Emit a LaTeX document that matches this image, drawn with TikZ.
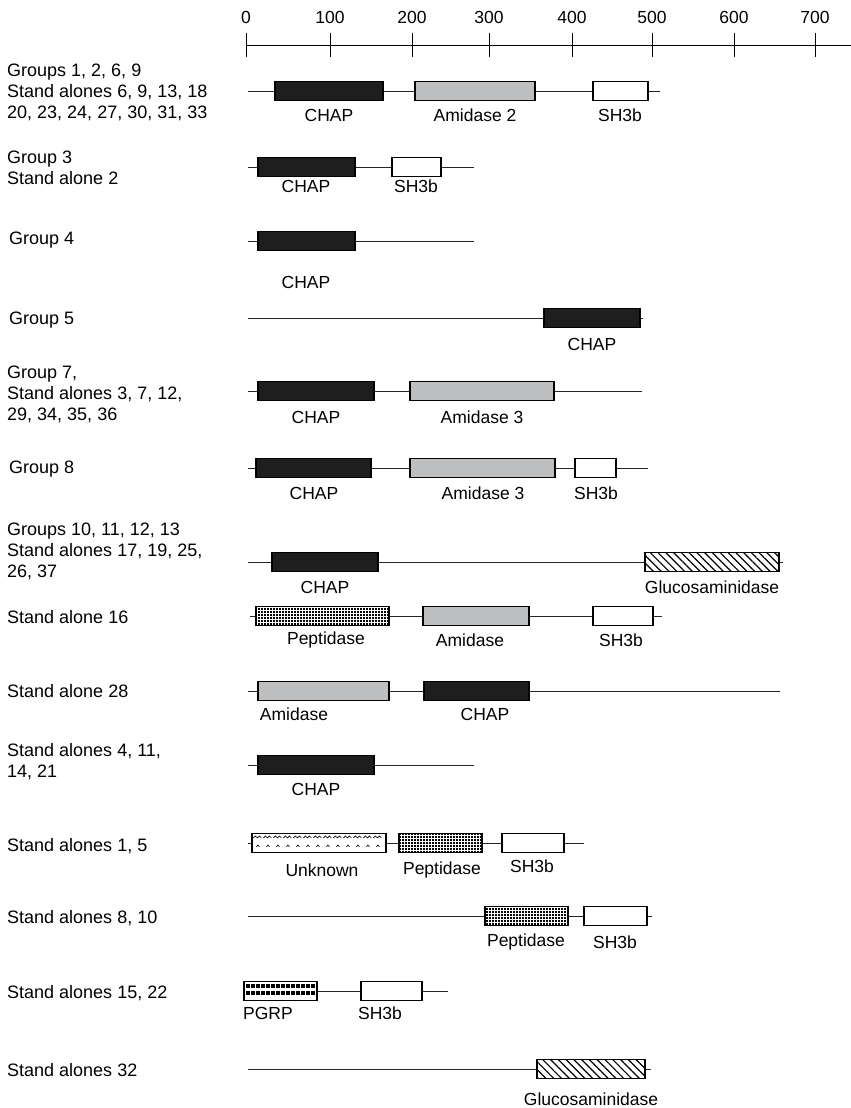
\documentclass[tikz,border=0pt]{standalone}
\usepackage{fontspec}
\setmainfont{Liberation Sans}
\usepackage{xcolor}
\usetikzlibrary{patterns,patterns.meta}

\definecolor{chapblack}{RGB}{30,30,30}
\definecolor{amidgray}{RGB}{188,190,192}

\pgfdeclarepattern{
  name=pepgrid,
  type=uncolored,
  bottom left={\pgfpointorigin},
  top right={\pgfpoint{3pt}{3pt}},
  tile size={\pgfpoint{3pt}{3pt}},
  code={\pgfpathrectangle{\pgfpointorigin}{\pgfpoint{2.5pt}{2.5pt}}\pgfusepath{fill}}
}

\tikzset{
  dom/.style={rectangle, draw=black, line width=1.1pt, minimum height=19pt, inner sep=0pt},
  chap/.style={dom, fill=chapblack},
  amid/.style={dom, fill=amidgray},
  sh/.style={dom, fill=white},
  pept/.style={dom, fill=white, postaction={pattern=pepgrid}, postaction={draw, line width=1.1pt}},
  glu/.style={dom, fill=white, postaction={pattern={Lines[angle=-45, distance=5.5pt, line width=1.2pt]}}, postaction={draw, line width=1.1pt}},
  pgrp/.style={dom, fill=white},
  unk/.style={dom, fill=white},
  bb/.style={line width=0.9pt, draw=black!85},
  lbl/.style={inner sep=0pt, font=\fontsize{17.5}{20}\selectfont},
  grp/.style={inner sep=0pt, anchor=west, align=left, font=\fontsize{18}{21}\selectfont}
}

\begin{document}
\begin{tikzpicture}[x=1pt, y=-1pt]
  \useasboundingbox (0,0) rectangle (851,1108);

  % scale
  \coordinate (AxisStart) at (246,45);
  \coordinate (AxisEnd) at (851,45);
  \draw[line width=0.9pt] (AxisStart) -- (AxisEnd);
  \foreach \v/\x in {0/246, 100/330, 200/412, 300/489, 400/572, 500/652, 600/734, 700/815} {
    \draw[line width=0.9pt] (\x,33) -- (\x,57);
    \node[lbl] (Tick\v) at (\x,17) {\v};
  }

  % groups 1, 2, 6, 9
  \node[grp] (Name1) at (7,92) {Groups 1, 2, 6, 9\\Stand alones 6, 9, 13, 18\\20, 23, 24, 27, 30, 31, 33};
  \coordinate (Start1) at (248,91);
  \coordinate (End1) at (660,91);
  \node[chap, minimum width=108pt] (Chap1) at (329,91) {};
  \node[amid, minimum width=120pt] (Amidase1) at (475,91) {};
  \node[sh, minimum width=55pt] (SHb1) at (620.5,91) {};
  \draw[bb] (Start1) -- (Chap1) -- (Amidase1) -- (SHb1) -- (End1);
  \node[lbl] (ChapLab1) at (329,115) {CHAP};
  \node[lbl] (AmidaseLab1) at (475,115) {Amidase 2};
  \node[lbl] (SHbLab1) at (620,115) {SH3b};

  % group 3
  \node[grp] (Name2) at (7,168) {Group 3\\Stand alone 2};
  \coordinate (Start2) at (248,167);
  \coordinate (End2) at (474,167);
  \node[chap, minimum width=97pt] (Chap2) at (306.5,167) {};
  \node[sh, minimum width=49pt] (SHb2) at (416.5,167) {};
  \draw[bb] (Start2) -- (Chap2) -- (SHb2) -- (End2);
  \node[lbl] (ChapLab2) at (306,186) {CHAP};
  \node[lbl] (SHbLab2) at (416,186) {SH3b};

  % group 4
  \node[grp] (Name3) at (9,240) {Group 4};
  \coordinate (Start3) at (248,241);
  \coordinate (End3) at (474,241);
  \node[chap, minimum width=97pt] (Chap3) at (306.5,241) {};
  \draw[bb] (Start3) -- (Chap3) -- (End3);
  \node[lbl] (ChapLab3) at (306,282) {CHAP};

  % group 5
  \node[grp] (Name4) at (9,320) {Group 5};
  \coordinate (Start4) at (248,318);
  \coordinate (End4) at (643,318);
  \node[chap, minimum width=96pt] (Chap4) at (592,318) {};
  \draw[bb] (Start4) -- (Chap4) -- (End4);
  \node[lbl] (ChapLab4) at (592,344) {CHAP};

  % group 7
  \node[grp] (Name5) at (7,394) {Group 7,\\Stand alones 3, 7, 12,\\29, 34, 35, 36};
  \coordinate (Start5) at (248,391);
  \coordinate (End5) at (642,391);
  \node[chap, minimum width=116pt] (Chap5) at (316,391) {};
  \node[amid, minimum width=144pt] (Amidase5) at (482,391) {};
  \draw[bb] (Start5) -- (Chap5) -- (Amidase5) -- (End5);
  \node[lbl] (ChapLab5) at (316,417) {CHAP};
  \node[lbl] (AmidaseLab5) at (482,417) {Amidase 3};

  % group 8
  \node[grp] (Name6) at (9,469) {Group 8};
  \coordinate (Start6) at (248,468);
  \coordinate (End6) at (648,468);
  \node[chap, minimum width=115pt] (Chap6) at (313.5,468) {};
  \node[amid, minimum width=145pt] (Amidase6) at (482.5,468) {};
  \node[sh, minimum width=41pt] (SHb6) at (595.5,468) {};
  \draw[bb] (Start6) -- (Chap6) -- (Amidase6) -- (SHb6) -- (End6);
  \node[lbl] (ChapLab6) at (314,493) {CHAP};
  \node[lbl] (AmidaseLab6) at (483,493) {Amidase 3};
  \node[lbl] (SHbLab6) at (596,493) {SH3b};

  % groups 10, 11, 12, 13
  \node[grp] (Name7) at (7,551) {Groups 10, 11, 12, 13\\Stand alones 17, 19, 25,\\26, 37};
  \coordinate (Start7) at (248,562);
  \coordinate (End7) at (783,562);
  \node[chap, minimum width=106pt] (Chap7) at (325,562) {};
  \node[glu, minimum width=134pt] (Gluc7) at (712,562) {};
  \draw[bb] (Start7) -- (Chap7) -- (Gluc7) -- (End7);
  \node[lbl] (ChapLab7) at (325,587) {CHAP};
  \node[lbl] (GlucLab7) at (712,587) {Glucosaminidase};

  % stand alone 16
  \node[grp] (Name8) at (7,617) {Stand alone 16};
  \coordinate (Start8) at (250,616);
  \coordinate (End8) at (662,616);
  \node[pept, minimum width=133pt] (Pept8) at (322.5,616) {};
  \node[amid, minimum width=106pt] (Amidase8) at (476,616) {};
  \node[sh, minimum width=60pt] (SHb8) at (623,616) {};
  \draw[bb] (Start8) -- (Pept8) -- (Amidase8) -- (SHb8) -- (End8);
  \node[lbl] (PeptLab8) at (326,640) {Peptidase};
  \node[lbl] (AmidaseLab8) at (470,640) {Amidase};
  \node[lbl] (SHbLab8) at (621,640) {SH3b};

  % stand alone 28
  \node[grp] (Name9) at (7,691) {Stand alone 28};
  \coordinate (Start9) at (248,691);
  \coordinate (End9) at (780,691);
  \node[amid, minimum width=131pt] (Amidase9) at (323.5,691) {};
  \node[chap, minimum width=105pt] (Chap9) at (476.5,691) {};
  \draw[bb] (Start9) -- (Amidase9) -- (Chap9) -- (End9);
  \node[lbl] (AmidaseLab9) at (294,714) {Amidase};
  \node[lbl] (ChapLab9) at (485,714) {CHAP};

  % stand alones 4, 11, 14, 21
  \node[grp] (Name10) at (7,762) {Stand alones 4, 11,\\14, 21};
  \coordinate (Start10) at (248,765);
  \coordinate (End10) at (474,765);
  \node[chap, minimum width=116pt] (Chap10) at (316,765) {};
  \draw[bb] (Start10) -- (Chap10) -- (End10);
  \node[lbl] (ChapLab10) at (316,789) {CHAP};

  % stand alones 1, 5
  \node[grp] (Name11) at (7,846) {Stand alones 1, 5};
  \coordinate (Start11) at (248,843);
  \coordinate (End11) at (584,843);
  \node[unk, minimum width=134pt] (Unknown11) at (319,843) {};
  \foreach \i in {0,...,12} {
    \draw[line width=0.6pt] ([shift={(\i*10+2,5)}]Unknown11.north west) -- ++(2,-2) -- ++(2,2) -- ++(2,-2) -- ++(2,2);
    \draw[line width=0.6pt] ([shift={(\i*10+5,14)}]Unknown11.north west) -- ++(1.5,-2) -- ++(1.5,2);
  }
  \node[pept, minimum width=83pt] (Pept11) at (440.5,843) {};
  \node[sh, minimum width=62pt] (SHb11) at (533,843) {};
  \draw[bb] (Start11) -- (Unknown11) -- (Pept11) -- (SHb11) -- (End11);
  \node[lbl] (UnknownLab11) at (322,870) {Unknown};
  \node[lbl] (PeptLab11) at (442,870) {Peptidase};
  \node[lbl] (SHbLab11) at (532,866) {SH3b};

  % stand alones 8, 10
  \node[grp] (Name12) at (7,918) {Stand alones 8, 10};
  \coordinate (Start12) at (248,916);
  \coordinate (End12) at (652,916);
  \node[pept, minimum width=83pt] (Pept12) at (526.5,916) {};
  \node[sh, minimum width=63pt] (SHb12) at (615.5,916) {};
  \draw[bb] (Start12) -- (Pept12) -- (SHb12) -- (End12);
  \node[lbl] (PeptLab12) at (526,942) {Peptidase};
  \node[lbl] (SHbLab12) at (615,942) {SH3b};

  % stand alones 15, 22
  \node[grp] (Name13) at (7,993) {Stand alones 15, 22};
  \coordinate (End13) at (448,991);
  \node[pgrp, minimum width=73pt] (Pgrp13) at (280.5,991) {};
  \foreach \i in {0,...,13} {
    \fill ([shift={(2.5+\i*5,3.5)}]Pgrp13.north west) rectangle ++(3.8,4);
    \fill ([shift={(2.5+\i*5,10.5)}]Pgrp13.north west) rectangle ++(3.8,4);
  }
  \node[sh, minimum width=61pt] (SHb13) at (391.5,991) {};
  \draw[bb] (Pgrp13) -- (SHb13) -- (End13);
  \node[lbl] (PgrpLab13) at (268,1013) {PGRP};
  \node[lbl] (SHbLab13) at (380,1013) {SH3b};

  % stand alones 32
  \node[grp] (Name14) at (7,1070) {Stand alones 32};
  \coordinate (Start14) at (248,1069);
  \coordinate (End14) at (651,1069);
  \node[glu, minimum width=108pt] (Gluc14) at (591,1069) {};
  \draw[bb] (Start14) -- (Gluc14) -- (End14);
  \node[lbl] (GlucLab14) at (591,1099) {Glucosaminidase};
\end{tikzpicture}
\end{document}
